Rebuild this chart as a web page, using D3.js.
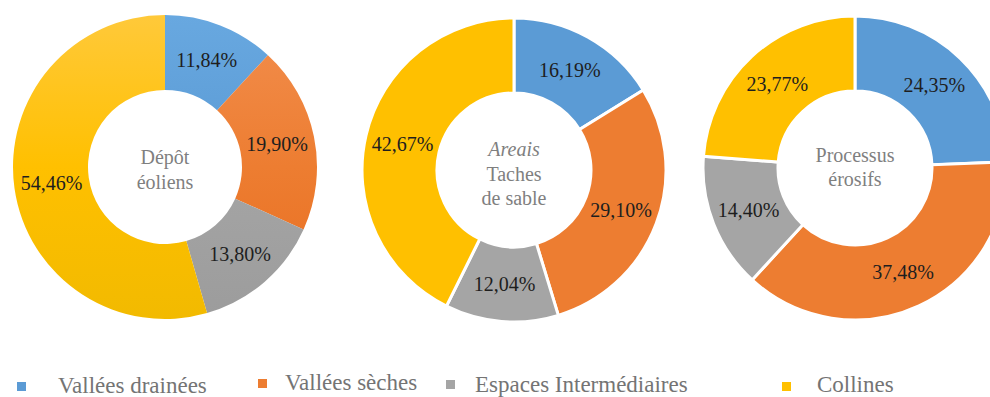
<!DOCTYPE html>
<html>
<head>
<meta charset="utf-8">
<script src="https://cdn.jsdelivr.net/npm/d3@7"></script>
</head>
<body style="margin:0">
<svg id="chart" width="990" height="397" font-family="Liberation Serif"></svg>
<script>
// Shares of each landform unit (%) for three surface types
const categories = ["Vallées drainées", "Vallées sèches", "Espaces Intermédiaires", "Collines"];
const depotEoliens = [11.84, 19.90, 13.80, 54.46];
const tachesSable = [16.19, 29.10, 12.04, 42.67];
const processusErosifs = [24.35, 37.48, 14.40, 23.77];

const colors = ["#5B9BD5", "#ED7D31", "#A5A5A5", "#FFC000"];
const lighter = ["#68A8E0", "#F28E4E", "#B3B3B3", "#FFC93A"];
const darker = ["#5592CC", "#E86D1F", "#9C9C9C", "#F2BA00"];
const serifFamily = "Liberation Serif";

const svg = d3.select("#chart");
const defs = svg.append("defs");

const color = d3.scaleOrdinal().domain(categories).range(colors);
const fmt = v => d3.format(".2f")(v).replace(".", ",") + "%";

const outerR = 152, innerR = 77;
const arc = d3.arc().innerRadius(innerR).outerRadius(outerR);
const labelArc = d3.arc().innerRadius((innerR + outerR) / 2).outerRadius((innerR + outerR) / 2);
const pie = d3.pie().sort(null).value(d => d.value);

// Each doughnut: center, center caption lines, separator width, gradient shading
const charts = [
  { values: depotEoliens, cx: 165, cy: 167, gap: 0, gradient: true,
    caption: [{ t: "Dépôt", y: 164 }, { t: "éoliens", y: 189 }] },
  { values: tachesSable, cx: 514, cy: 170, gap: 3, gradient: false,
    caption: [{ t: "Areais", y: 156, italic: true }, { t: "Taches", y: 181 }, { t: "de sable", y: 205 }] },
  { values: processusErosifs, cx: 855, cy: 168, gap: 3, gradient: false,
    caption: [{ t: "Processus", y: 162 }, { t: "érosifs", y: 186 }] }
];

charts.forEach((c, ci) => {
  const data = categories.map((k, i) => ({ key: k, value: c.values[i], i }));
  const g = svg.append("g").attr("transform", `translate(${c.cx},${c.cy})`);

  if (c.gradient) {
    colors.forEach((col, i) => {
      const lg = defs.append("linearGradient")
        .attr("id", `grad${ci}_${i}`)
        .attr("gradientUnits", "userSpaceOnUse")
        .attr("x1", 0).attr("y1", -outerR).attr("x2", 0).attr("y2", outerR);
      lg.append("stop").attr("offset", "0%").attr("stop-color", lighter[i]);
      lg.append("stop").attr("offset", "50%").attr("stop-color", col);
      lg.append("stop").attr("offset", "100%").attr("stop-color", darker[i]);
    });
  }

  const arcs = pie(data);
  g.selectAll("path.slice")
    .data(arcs)
    .join("path")
    .attr("class", "slice")
    .attr("d", arc)
    .attr("fill", d => c.gradient ? `url(#grad${ci}_${d.data.i})` : color(d.data.key))
    .attr("stroke", c.gap ? "#fff" : "none")
    .attr("stroke-width", c.gap);

  g.selectAll("text.val")
    .data(arcs)
    .join("text")
    .attr("class", "val")
    .attr("transform", d => `translate(${labelArc.centroid(d)})`)
    .attr("text-anchor", "middle")
    .attr("dy", "0.35em")
    .style("font-family", () => `"${serifFamily}"`)
    .attr("font-size", 20)
    .attr("fill", "#1e1e1e")
    .text(d => fmt(d.data.value));

  svg.append("g")
    .selectAll("text")
    .data(c.caption)
    .join("text")
    .attr("x", c.cx)
    .attr("y", d => d.y)
    .attr("text-anchor", "middle")
    .style("font-family", () => `"${serifFamily}"`)
    .attr("font-size", 20)
    .attr("font-style", d => d.italic ? "italic" : null)
    .attr("fill", "#7f7f7f")
    .text(d => d.t);
});

// Legend
const legendLayout = [
  { mx: 17, my: 382, tx: 58, ty: 393 },
  { mx: 258, my: 379, tx: 285, ty: 390 },
  { mx: 446, my: 380, tx: 475, ty: 392 },
  { mx: 782, my: 382, tx: 817, ty: 392 }
];
const legend = svg.append("g").selectAll("g")
  .data(categories)
  .join("g");
legend.append("rect")
  .attr("x", (d, i) => legendLayout[i].mx)
  .attr("y", (d, i) => legendLayout[i].my)
  .attr("width", 9).attr("height", 9)
  .attr("fill", d => color(d));
legend.append("text")
  .attr("x", (d, i) => legendLayout[i].tx)
  .attr("y", (d, i) => legendLayout[i].ty)
  .style("font-family", () => `"${serifFamily}"`)
  .attr("font-size", 23)
  .attr("fill", "#747474")
  .text(d => d);
</script>
</body>
</html>
